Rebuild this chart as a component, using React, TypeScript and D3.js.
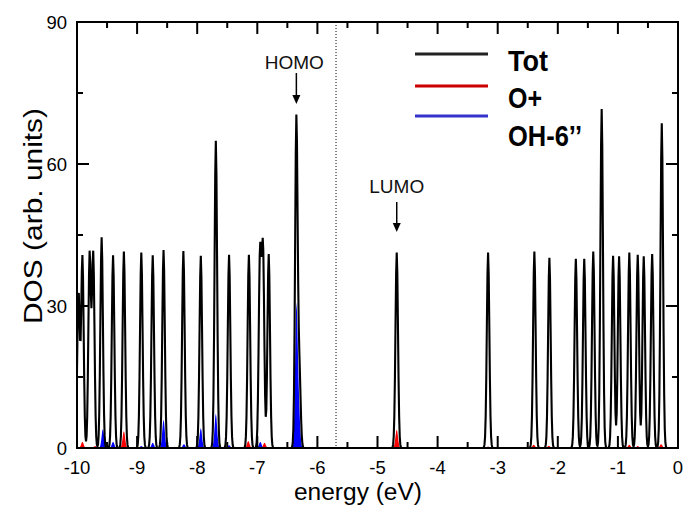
import React from "react";
import * as d3 from "d3";

// Total DOS peaks: energy (eV) and height (arb. units)
const totEnergy = [-9.975, -9.91, -9.79, -9.73, -9.59, -9.40, -9.22, -8.93, -8.74, -8.56, -8.23, -7.94, -7.69, -7.47, -7.14, -6.955, -6.905, -6.81, -6.35, -6.30, -4.68, -3.16, -2.39, -2.14, -1.70, -1.56, -1.41, -1.27, -1.08, -0.98, -0.81, -0.67, -0.57, -0.43, -0.27];
const totHeight = [33, 40.5, 41, 41, 44.5, 40.7, 41.5, 41.3, 40.7, 41.8, 41.6, 40.6, 64.9, 40.8, 40.8, 40.5, 41.5, 41, 69.5, 16, 41.3, 41.3, 41.5, 40.2, 40, 40, 41.5, 71.6, 40.6, 40.5, 41.3, 40.8, 40.5, 41, 68.6];

// O+ projected DOS peaks
const oPlusEnergy = [-9.91, -9.70, -9.22, -7.15, -6.88, -4.68, -3.16, -2.40, -2.15, -1.71, -1.56, -0.81, -0.67, -0.28];
const oPlusHeight = [1.3, 0.4, 3.6, 1.5, 1.1, 3.9, 0.3, 0.7, 0.5, 0.2, 0.2, 0.7, 0.4, 0.8];

// OH-6'' projected DOS peaks
const ohEnergy = [-9.57, -9.40, -8.93, -8.74, -8.56, -8.22, -7.94, -7.69, -7.47, -6.95, -6.35, -6.31, -1.0, -0.81, -0.28];
const ohHeight = [4.0, 1.3, 0.4, 1.1, 6.0, 0.8, 4.2, 7.3, 0.6, 1.3, 29.5, 8, 0.3, 0.4, 0.4];

const xTickValues = [-10, -9, -8, -7, -6, -5, -4, -3, -2, -1, 0];
const yTickValues = [0, 30, 60, 90];
const fermiLevel = -5.69;
const homoEnergy = -6.35;
const lumoEnergy = -4.68;

const legendLabels = ["Tot", "O+", "OH-6\u2019\u2019"];
const legendColors = ["#222222", "#cc0000", "#3333cc"];

const W = 684;
const H = 506;
const L = 77, R = 678, T = 22, B = 448;
const SIGMA = 0.021;
const STEP = 0.01;

function broaden(energies: number[], heights: number[]) {
  const grid = d3.range(-10.2, 0.2 + 1e-9, STEP);
  return grid.map((e) => {
    let v = 0;
    for (let i = 0; i < energies.length; i++) {
      const d = e - energies[i];
      v += heights[i] * Math.exp(-(d * d) / (2 * SIGMA * SIGMA));
    }
    return [e, v] as [number, number];
  });
}

export default function App() {
  const x = d3.scaleLinear().domain([-10, 0]).range([L, R]);
  const y = d3.scaleLinear().domain([0, 90]).range([B, T]);

  const tot = broaden(totEnergy, totHeight);
  const op = broaden(oPlusEnergy, oPlusHeight);
  const oh = broaden(ohEnergy, ohHeight);

  const line = d3.line<[number, number]>().x((d) => x(d[0])).y((d) => y(d[1]));
  const area = d3
    .area<[number, number]>()
    .x((d) => x(d[0]))
    .y0(y(0))
    .y1((d) => y(d[1]));

  const xMinor = d3.range(-10, 0.001, 0.5);
  const yMinor = d3.range(0, 90.001, 15);
  const font = "'Liberation Sans', Arial, Helvetica, sans-serif";

  return (
    <svg
      width={W}
      height={H}
      style={{ position: "absolute", left: 0, top: 0, background: "#fff" }}
    >
      <defs>
        <clipPath id="plot">
          <rect x={L} y={T} width={R - L} height={B - T} />
        </clipPath>
      </defs>
      <rect x={0} y={0} width={W} height={H} fill="#fff" />

      {/* Fermi level */}
      <line
        x1={x(fermiLevel)}
        x2={x(fermiLevel)}
        y1={T}
        y2={B}
        stroke="#000"
        strokeWidth={1}
        strokeDasharray="1,2"
      />

      <g clipPath="url(#plot)">
        <path d={area(oh) || ""} fill="#0000ff" />
        <path d={area(op) || ""} fill="#ff0000" />
        <path d={line(tot) || ""} fill="none" stroke="#000" strokeWidth={2.1} strokeLinejoin="miter" />
      </g>

      {/* ticks */}
      {xMinor.map((v) => {
        const major = Math.abs(v - Math.round(v)) < 1e-6;
        const len = major ? 12 : 6;
        return (
          <g key={"xt" + v}>
            <line x1={x(v)} x2={x(v)} y1={B} y2={B - len} stroke="#000" strokeWidth={2} />
            <line x1={x(v)} x2={x(v)} y1={T} y2={T + len} stroke="#000" strokeWidth={2} />
          </g>
        );
      })}
      {yMinor.map((v) => {
        const major = v % 30 === 0;
        const len = major ? 12 : 6;
        return (
          <g key={"yt" + v}>
            <line x1={L} x2={L + len} y1={y(v)} y2={y(v)} stroke="#000" strokeWidth={2} />
            <line x1={R} x2={R - len} y1={y(v)} y2={y(v)} stroke="#000" strokeWidth={2} />
          </g>
        );
      })}

      {/* frame */}
      <rect x={L} y={T} width={R - L} height={B - T} fill="none" stroke="#000" strokeWidth={2} />

      {/* tick labels */}
      {xTickValues.map((v) => (
        <text
          key={"xl" + v}
          x={x(v)}
          y={474}
          textAnchor="middle"
          fontFamily={font}
          fontSize={18.5}
          fill="#000"
        >
          {v}
        </text>
      ))}
      {yTickValues.map((v) => (
        <text
          key={"yl" + v}
          x={67}
          y={y(v) + 6.5}
          textAnchor="end"
          fontFamily={font}
          fontSize={18.5}
          fill="#000"
        >
          {v}
        </text>
      ))}

      {/* axis titles */}
      <text
        x={358}
        y={500}
        textAnchor="middle"
        fontFamily={font}
        fontSize={23}
        textLength={128}
        lengthAdjust="spacingAndGlyphs"
        fill="#000"
      >
        energy (eV)
      </text>
      <text
        transform={`translate(42,${216}) rotate(-90)`}
        textAnchor="middle"
        fontFamily={font}
        fontSize={25}
        textLength={216}
        lengthAdjust="spacingAndGlyphs"
        fill="#000"
      >
        DOS (arb. units)
      </text>

      {/* HOMO / LUMO annotations */}
      <text x={x(homoEnergy) - 2} y={69} textAnchor="middle" fontFamily={font} fontSize={19} fill="#111">
        HOMO
      </text>
      <line x1={x(homoEnergy)} x2={x(homoEnergy)} y1={73} y2={100} stroke="#000" strokeWidth={1.5} />
      <path
        d={`M${x(homoEnergy) - 4},${95} L${x(homoEnergy) + 4},${95} L${x(homoEnergy)},${104} Z`}
        fill="#000"
      />
      <text x={x(lumoEnergy)} y={193} textAnchor="middle" fontFamily={font} fontSize={19} fill="#111">
        LUMO
      </text>
      <line x1={x(lumoEnergy)} x2={x(lumoEnergy)} y1={202} y2={228} stroke="#000" strokeWidth={1.5} />
      <path
        d={`M${x(lumoEnergy) - 4},${223} L${x(lumoEnergy) + 4},${223} L${x(lumoEnergy)},${232} Z`}
        fill="#000"
      />

      {/* legend */}
      {legendLabels.map((lab, i) => {
        const ly = [54, 86, 116][i];
        const ty = [71, 108, 146][i];
        const tl = [40, 34, 74][i];
        return (
          <g key={lab}>
            <line x1={415} x2={488} y1={ly} y2={ly} stroke={legendColors[i]} strokeWidth={3} />
            <text
              x={508}
              y={ty}
              fontFamily={font}
              fontWeight="bold"
              fontSize={30}
              textLength={tl}
              lengthAdjust="spacingAndGlyphs"
              fill="#000"
            >
              {lab}
            </text>
          </g>
        );
      })}
    </svg>
  );
}
